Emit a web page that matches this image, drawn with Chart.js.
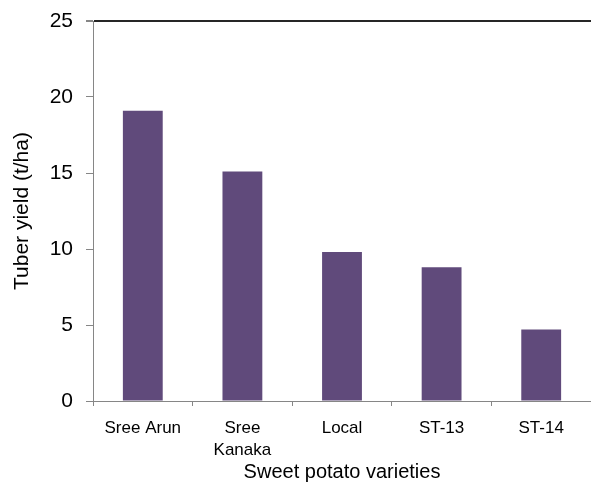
<!DOCTYPE html>
<html>
<head>
<meta charset="utf-8">
<script src="https://cdn.jsdelivr.net/npm/chart.js@4"></script>
<style>
  html, body { margin: 0; padding: 0; background: #fff; overflow: hidden; }
  canvas { display: block; }
</style>
</head>
<body>
<canvas id="yieldChart" width="591" height="482"></canvas>
<script>
// Sweet potato varieties and their tuber yield (t/ha)
const varieties = [["Sree Arun"], ["Sree", "Kanaka"], ["Local"], ["ST-13"], ["ST-14"]];
const tuberYield = [19.1, 15.1, 9.8, 8.8, 4.7];
const yTicks = [0, 5, 10, 15, 20, 25];

const axisGray = "#868686";
const font = "'Liberation Sans', Arial, sans-serif";

const ctx = document.getElementById("yieldChart").getContext("2d");

new Chart(ctx, {
    type: "bar",
    data: {
        labels: varieties,
        datasets: [
            {
                label: "Tuber yield",
                data: tuberYield,
                backgroundColor: "#604a7b",
                barPercentage: 0.4,
                categoryPercentage: 1,
            },
        ],
    },
    options: {
        responsive: false,
        animation: false,
        layout: {
            // plot runs slightly past the right edge, like the reference
            padding: { top: 21, right: -2, left: 0, bottom: 0 },
        },
        plugins: {
            legend: { display: false },
            tooltip: { enabled: false },
        },
        scales: {
            x: {
                afterFit: (scale) => { scale.height = 81; },
                grid: {
                    display: true,
                    drawOnChartArea: false,
                    offset: true,
                    tickLength: 5,
                    color: axisGray,
                },
                border: { color: axisGray },
                ticks: {
                    color: "#000",
                    padding: 12,
                    font: { family: font, size: 17, lineHeight: 1.25 },
                },
                title: {
                    display: true,
                    text: "Sweet potato varieties",
                    color: "#000",
                    font: { family: font, size: 20, lineHeight: 1 },
                    padding: { top: 0, bottom: 0 },
                },
            },
            y: {
                min: 0,
                max: 25,
                afterFit: (scale) => {
                    scale.width = 93;
                    // label padding would otherwise push the plot top down
                    scale.paddingTop = 10;
                    scale.paddingBottom = 10;
                },
                afterBuildTicks: (scale) => {
                    scale.ticks = yTicks.map((v) => ({ value: v }));
                },
                grid: {
                    drawOnChartArea: true,
                    tickLength: 7,
                    tickColor: axisGray,
                    color: (c) => (c.tick && c.tick.value === 25 ? "#262626" : "rgba(0,0,0,0)"),
                    lineWidth: (c) => (c.tick && c.tick.value === 25 ? 2 : 1),
                },
                border: { color: axisGray },
                ticks: {
                    color: "#000",
                    padding: 13,
                    font: { family: font, size: 21 },
                },
                title: {
                    display: true,
                    text: "Tuber yield (t/ha)",
                    color: "#000",
                    font: { family: font, size: 21, lineHeight: 1 },
                    padding: { top: 12, bottom: 0 },
                },
            },
        },
    },
});
</script>
</body>
</html>
